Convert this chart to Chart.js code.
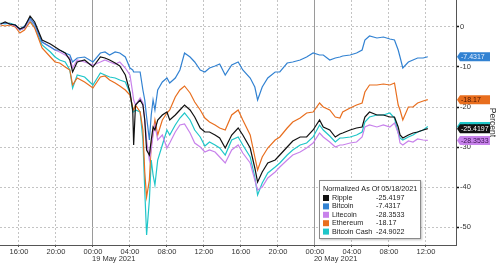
<!DOCTYPE html>
<html>
<head>
<meta charset="utf-8">
<script src="https://cdn.jsdelivr.net/npm/chart.js@4.4.1/dist/chart.umd.min.js"></script>
<style>
  html, body { margin: 0; padding: 0; background: #fff; }
  #wrap { width: 500px; height: 263px; position: relative; }
</style>
</head>
<body>
<div id="wrap"><canvas id="myChart"></canvas></div>
<script>
// hours from 19 May 2021 00:00
const hours = [-10.0,-9.5,-9.0,-8.4,-7.9,-7.4,-6.8,-6.3,-5.5,-4.6,
  -4.1,-3.6,-3.0,-2.5,-2.2,-1.7,-0.9,0,0.8,1.3,
  1.8,2.4,2.9,3.5,4.0,4.3,4.4,4.6,5.1,5.4,
  5.6,5.8,6.1,6.3,6.5,6.7,7.0,7.5,8.0,8.3,
  8.9,9.4,9.9,10.5,11.0,11.6,12.1,12.6,13.2,13.7,
  14.3,15.0,15.7,16.2,17.0,17.5,17.8,18.3,18.9,19.7,
  20.2,21.0,21.6,22.4,23.1,23.8,24.5,24.9,25.6,26.2,
  26.7,27.0,27.8,28.5,29.1,29.4,29.9,30.7,31.4,32.1,
  32.6,33.0,33.2,33.5,34.1,34.6,35.1,35.7,36.2]

const names = ['Ripple', 'Bitcoin', 'Litecoin', 'Ethereum', 'Bitcoin Cash']
const latest = [-25.4197, -7.4317, -28.3533, -18.17, -24.9022]

const ripple = [0.75,1.25,0.75,0.5,-0.5,0,2.75,1.25,-3.25,-4.25,
  -5,-5.75,-6.5,-8.25,-11.25,-8.75,-8.25,-10,-7.5,-7.75,
  -8.25,-9,-9.75,-12,-16.25,-20.75,-29.5,-19.5,-18.25,-19.5,
  -23.25,-30.75,-32,-28.25,-25,-25.75,-23.25,-22,-21.25,-23.25,
  -22,-20.75,-19.5,-20.75,-22.5,-25.25,-26.25,-26.25,-27,-27.75,
  -30.25,-27,-25.25,-27,-30.25,-35.25,-38.75,-36.25,-34,-33.25,
  -32,-30,-28.5,-27.5,-27.5,-25.75,-23.25,-25,-25.75,-27.5,
  -26.75,-26.5,-25.75,-25.25,-25,-22.5,-21.25,-22,-22,-22.5,
  -22.5,-25,-27,-27.75,-27,-26.5,-26.25,-25.75,-25.4197]

const bitcoin = [0.75,1.0,0.75,0.5,-0.5,0.25,2.25,0.75,-3.75,-5.0,
  -5.75,-5.75,-6.5,-7.0,-8.75,-7.75,-7.5,-8.75,-6.5,-6.25,
  -7.0,-6.25,-6.5,-7.5,-10.25,-10.75,-11.25,-11.25,-11.25,-15.75,
  -18.25,-22.5,-28.25,-22.0,-18.25,-20.75,-15.75,-13.75,-12.75,-14.0,
  -12.75,-10.75,-6.5,-7.5,-8.75,-10.75,-11.25,-10.25,-9.75,-9.25,
  -12.0,-9.5,-8.75,-10.75,-12.75,-15.0,-18.25,-15.0,-12.75,-11.25,
  -11.25,-9.0,-8.75,-8.25,-7.5,-6.5,-7.0,-7.0,-8.25,-7.75,
  -7.5,-7.25,-7.0,-6.5,-5.75,-3.25,-2.25,-2.75,-2.5,-3.0,
  -3.25,-5.75,-7.5,-10.25,-8.75,-8.25,-7.75,-7.75,-7.4317]

const litecoin = [0.75,1,0.75,0.25,-0.75,-0.25,2,0.5,-3.75,-5,
  -5.75,-6.25,-7,-7.75,-10.25,-8.25,-8.75,-9.5,-8.75,-8.25,
  -8.75,-9.25,-8.75,-10.25,-12,-16.5,-18.25,-19.5,-17.75,-19,
  -23.25,-28.25,-33.25,-30.75,-27,-24.5,-28.25,-27,-30.25,-29,
  -26.25,-24.5,-24.25,-26.5,-29,-30,-31.25,-30.75,-31.25,-32.5,
  -34,-30.75,-29.5,-31.5,-34,-38.25,-40.75,-40,-37.75,-36.25,
  -35,-33.25,-32,-31.25,-30.25,-29,-26.5,-27.5,-28.75,-30,
  -29.5,-29.5,-29,-28.75,-27.5,-25,-24.5,-25,-24.5,-25,
  -24,-26.5,-29,-29.5,-28.5,-28.75,-28,-28.25,-28.3533]

const ethereum = [0.5,0.25,0.5,0,-1.5,-0.75,1.25,-0.25,-5.25,-7.5,
  -8.75,-9,-10,-10.75,-14.5,-12.75,-13.75,-15.25,-12.5,-12.25,
  -13.25,-14,-14.75,-15.75,-17,-20.25,-20.75,-19.5,-21.25,-25.75,
  -36.25,-42.5,-38.25,-29.5,-26.5,-23.25,-27,-23.25,-21.5,-20.75,
  -17.5,-15.75,-14.75,-16.5,-18.75,-20.75,-22.75,-23.75,-24.5,-25.25,
  -25.75,-22,-20.75,-23.25,-27,-32.5,-35.75,-32.5,-30.25,-28.25,
  -27.5,-25.25,-23.75,-22.75,-21.5,-21.25,-19,-20,-20.75,-22.5,
  -22.75,-21.25,-20.25,-19.5,-19,-16.25,-14.5,-14.5,-14.25,-14.5,
  -14,-19.5,-20.75,-23.25,-20,-20,-19,-18.5,-18.17]

const bitcoinCash = [1,0.75,1,0.5,-0.75,-0.25,1.75,0,-4.5,-6.25,
  -7.5,-8.25,-8.75,-10.75,-15.25,-12,-12.5,-14.5,-11.5,-12,
  -12.5,-12.75,-13.25,-13.75,-16.5,-21.25,-21.25,-20.75,-21.25,-28.25,
  -40.75,-52,-43.25,-33.25,-37,-39.5,-33.25,-29.5,-25.75,-27,
  -24.5,-22.75,-21.5,-23.25,-25.75,-27.5,-29.75,-28.75,-29.5,-30.25,
  -32,-28.25,-27.5,-29.5,-32.5,-37.5,-42,-39,-36.5,-35,
  -34,-32,-30.75,-29.5,-29,-27.5,-24.5,-25.75,-27.25,-28.75,
  -27.75,-27.75,-27.5,-27,-26.25,-23.75,-22.5,-22,-22,-21.5,
  -22.75,-26.5,-27.75,-28.25,-27.5,-27,-26.25,-25.75,-24.9022]

const yTicks = [0, -10, -20, -30, -40, -50]
const dayStarts = [0, 24]
const dayLabels = ['19 May 2021', '20 May 2021']
const legendTitle = 'Normalized As Of 05/18/2021'

const series = [ripple, bitcoin, litecoin, ethereum, bitcoinCash]
const colors = ['#111111', '#3282d2', '#c882eb', '#e86e1e', '#1fc6c9']
const boxText = ['#ffffff', '#e6f0ff', '#3a1050', '#4a1400', '#0a3a3a']
const boxOrder = [1, 3, 4, 0, 2]
const FONT = '"Liberation Sans", Arial, sans-serif'

const extras = {
  id: 'extras',
  afterDraw(chart) {
    const {ctx, chartArea, scales: {x, y}} = chart
    ctx.save()
    // last value boxes on the right axis
    ctx.font = '7px ' + FONT
    ctx.textBaseline = 'middle'
    boxOrder.forEach(i => {
      const cy = y.getPixelForValue(latest[i])
      const x0 = chartArea.right + 1, x1 = chartArea.right + 34
      ctx.fillStyle = colors[i]
      ctx.beginPath()
      ctx.moveTo(x0, cy)
      ctx.lineTo(x0 + 3, cy - 4.5)
      ctx.lineTo(x1, cy - 4.5)
      ctx.lineTo(x1, cy + 4.5)
      ctx.lineTo(x0 + 3, cy + 4.5)
      ctx.closePath()
      ctx.fill()
      ctx.fillStyle = boxText[i]
      ctx.textAlign = 'left'
      ctx.fillText(String(latest[i]), x0 + 4, cy + 0.5)
    })
    // day labels under the time ticks
    ctx.fillStyle = '#333'
    ctx.font = '7.5px ' + FONT
    dayStarts.forEach((d, i) => {
      ctx.fillText(dayLabels[i], x.getPixelForValue(d) - 1, 258.5)
    })
    // legend box
    const lx = chartArea.right - 137, ly = chartArea.bottom - 65
    ctx.shadowColor = 'rgba(0,0,0,0.25)'
    ctx.shadowBlur = 2
    ctx.shadowOffsetX = 1
    ctx.shadowOffsetY = 1
    ctx.fillStyle = '#fff'
    ctx.fillRect(lx, ly, 102, 59)
    ctx.shadowColor = 'transparent'
    ctx.strokeStyle = '#8a8a8a'
    ctx.lineWidth = 1
    ctx.strokeRect(lx + 0.5, ly + 0.5, 101, 58)
    ctx.font = '7.2px ' + FONT
    ctx.fillStyle = '#222'
    ctx.fillText(legendTitle, lx + 4, ly + 9.5)
    names.forEach((n, i) => {
      const ry = ly + 18 + i * 8.4
      ctx.fillStyle = colors[i]
      ctx.fillRect(lx + 4, ry - 3, 6, 6)
      ctx.fillStyle = '#222'
      ctx.fillText(n, lx + 13, ry)
      ctx.fillText(String(latest[i]), lx + 57, ry)
    })
    ctx.restore()
  }
}

new Chart(document.querySelector('#myChart'), {
  type: 'line',
  data: {
    datasets: series.map((s, i) => ({
      label: names[i],
      data: s.map((v, j) => ({x: hours[j], y: v})),
      borderColor: colors[i],
      borderWidth: 1.2,
      pointRadius: 0,
      tension: 0
    }))
  },
  options: {
    responsive: true,
    maintainAspectRatio: false,
    animation: false,
    layout: {padding: 0},
    plugins: {legend: {display: false}, tooltip: {enabled: false}},
    scales: {
      x: {
        type: 'linear',
        min: -10.05,
        max: 39.25,
        afterFit(s) { s.height = 18; s.paddingLeft = 0; s.paddingRight = 0 },
        ticks: {
          stepSize: 4,
          includeBounds: false,
          maxRotation: 0,
          autoSkip: false,
          padding: 0,
          color: '#333',
          font: {family: FONT, size: 7.5},
          callback: v => String(((v % 24) + 24) % 24).padStart(2, '0') + ':00'
        },
        grid: {
          color: c => (c.tick && c.tick.value % 24 === 0) ? '#9a9a9a' : '#c4c4c4',
          lineWidth: 1,
          tickLength: 2,
          tickColor: '#555'
        },
        border: {
          display: true,
          color: '#555',
          width: 1,
          dash: c => (c.tick && c.tick.value % 24 === 0) ? [] : [2, 2]
        }
      },
      y: {
        position: 'right',
        min: -54.5,
        max: 6.75,
        afterFit(s) { s.width = 44; s.paddingTop = 0; s.paddingBottom = 0 },
        afterBuildTicks(s) { s.ticks = yTicks.map(v => ({value: v})) },
        ticks: {
          padding: 1,
          color: '#333',
          font: {family: FONT, size: 7.5},
          callback: v => String(v)
        },
        grid: {
          color: '#c4c4c4',
          lineWidth: 1,
          tickLength: 3,
          tickColor: '#111',
          tickWidth: 1.5
        },
        border: {display: true, color: '#555', width: 1, dash: [2, 2]},
        title: {
          display: true,
          text: 'Percent',
          color: '#333',
          font: {family: FONT, size: 8.5},
          padding: {top: 3, bottom: 0}
        }
      }
    }
  },
  plugins: [extras]
})
</script>
</body>
</html>
